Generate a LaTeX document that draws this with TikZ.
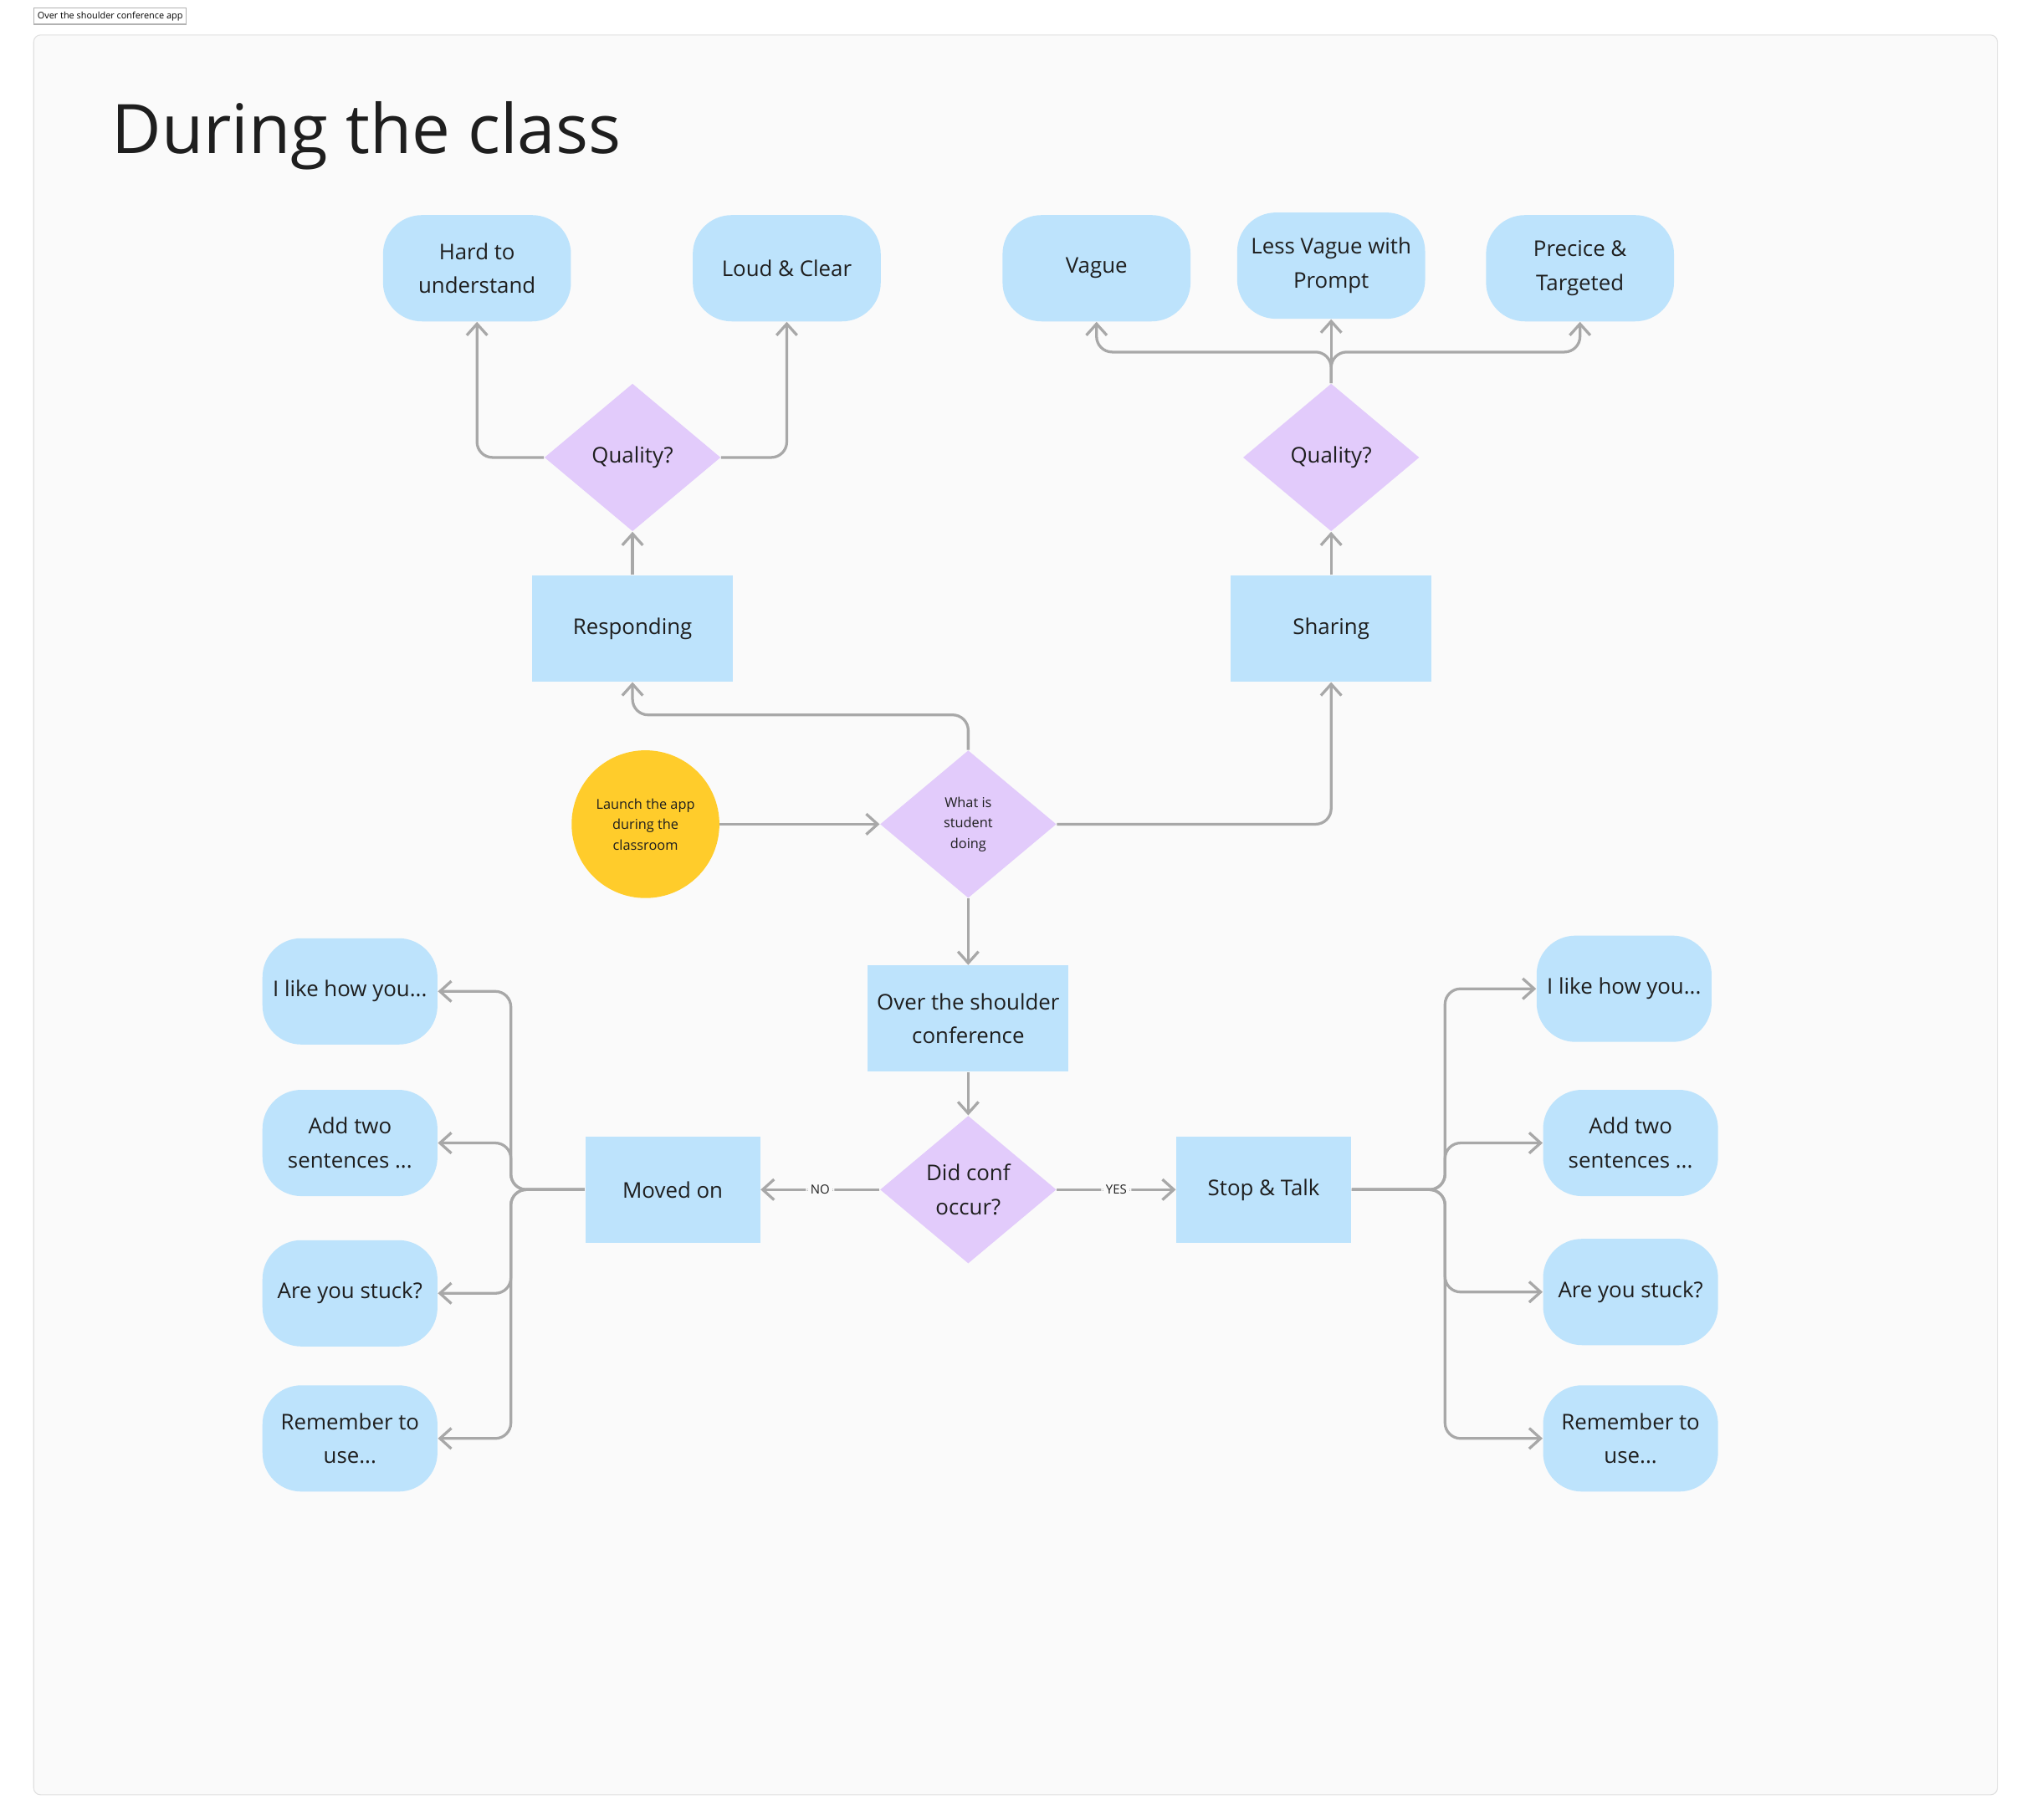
\documentclass[tikz,border=0pt]{standalone}
\usepackage{fontspec}
\setmainfont{Open Sans}
\usetikzlibrary{positioning,shapes.geometric,arrows.meta}
\definecolor{pillblue}{HTML}{BDE3FC}
\definecolor{diapurple}{HTML}{E2CBFB}
\definecolor{sunyellow}{HTML}{FFCC2B}
\definecolor{linegray}{HTML}{A8A8A8}
\definecolor{boardbg}{HTML}{FAFAFA}
\definecolor{inkdark}{HTML}{1E1E1E}
\tikzset{
  pill/.style={rectangle, rounded corners=30*0.02cm, fill=pillblue, minimum width=135*0.02cm, minimum height=82*0.02cm, align=center, text=inkdark, font=\fontsize{9.5}{15}\selectfont},
  box/.style={rectangle, fill=pillblue, minimum width=155*0.02cm, minimum height=82*0.02cm, align=center, text=inkdark, font=\fontsize{9.5}{15}\selectfont},
  choice/.style={diamond, fill=diapurple, minimum width=136*0.02cm, minimum height=114*0.02cm, inner sep=0pt, align=center, text=inkdark, font=\fontsize{9.5}{15}\selectfont},
  flow/.style={draw=linegray, line width=1.2pt, rounded corners=12*0.02cm, -{Straight Barb[length=5pt,width=9pt]}},
  tag/.style={fill=boardbg, inner sep=2pt, font=\fontsize{5.5}{7}\selectfont, text=inkdark}
}
\begin{document}
\begin{tikzpicture}[x=0.02cm, y=-0.02cm]
\useasboundingbox (0,0) rectangle (1560,1404);
\fill[white] (0,0) rectangle (1560,1404);
\draw[fill=boardbg, draw=black!12, rounded corners=3pt] (26,27) rectangle (1541,1385);
\node[draw=black!30, fill=white, inner sep=1.5pt, anchor=north west, font=\fontsize{4}{5}\selectfont] (board) at (26,6) {Over the shoulder conference app};
\node[anchor=west, font=\fontsize{30}{36}\selectfont, text=inkdark] (title) at (80,105) {During the class};

% top row
\node[pill, minimum width=145*0.02cm] (hard) at (368,207) {Hard to\\understand};
\node[pill, minimum width=145*0.02cm] (loud) at (607,207) {Loud \& Clear};
\node[pill, minimum width=145*0.02cm] (vague) at (846,207) {Vague};
\node[pill, minimum width=145*0.02cm] (lessvague) at (1027,205) {Less Vague with\\Prompt};
\node[pill, minimum width=145*0.02cm] (precice) at (1219,207) {Precice \&\\Targeted};

\node[choice] (q1) at (488,353) {Quality?};
\node[choice] (q2) at (1027,353) {Quality?};
\node[box] (resp) at (488,485) {Responding};
\node[box] (share) at (1027,485) {Sharing};

% middle
\node[circle, fill=sunyellow, minimum size=114*0.02cm, align=center, font=\fontsize{6}{9}\selectfont, text=inkdark] (launch) at (498,636) {Launch the app\\during the\\classroom};
\node[choice, font=\fontsize{6}{9}\selectfont] (what) at (747,636) {What is\\student\\doing};
\node[box] (osc) at (747,786) {Over the shoulder\\conference};
\node[choice] (did) at (747,918) {Did conf\\occur?};
\node[box, minimum width=135*0.02cm] (moved) at (519,918) {Moved on};
\node[box, minimum width=135*0.02cm] (stop) at (975,918) {Stop \& Talk};

% feedback pills
\node[pill] (l1) at (270,765) {I like how you...};
\node[pill] (l2) at (270,882) {Add two\\sentences ...};
\node[pill] (l3) at (270,998) {Are you stuck?};
\node[pill] (l4) at (270,1110) {Remember to\\use...};
\node[pill] (r1) at (1253,763) {I like how you...};
\node[pill] (r2) at (1258,882) {Add two\\sentences ...};
\node[pill] (r3) at (1258,997) {Are you stuck?};
\node[pill] (r4) at (1258,1110) {Remember to\\use...};

% connectors
\draw[flow] (q1.west) -| (hard.south);
\draw[flow] (q1.east) -| (loud.south);
\draw[flow] (q2.north) -- ++(0,-24) -| (vague.south);
\draw[flow] (q2.north) -- (lessvague.south);
\draw[flow] (q2.north) -- ++(0,-24) -| (precice.south);
\draw[flow] (resp.north) -- (q1.south);
\draw[flow] (share.north) -- (q2.south);
\draw[flow] (what.north) -- ++(0,-27) -| (resp.south);
\draw[flow] (launch.east) -- (what.west);
\draw[flow] (what.east) -| (share.south);
\draw[flow] (what.south) -- (osc.north);
\draw[flow] (osc.south) -- (did.north);
\draw[flow] (did.west) -- node[tag] {NO} (moved.east);
\draw[flow] (did.east) -- node[tag] {YES} (stop.west);
\foreach \p in {l1,l2,l3,l4}
  \draw[flow] (moved.west) -- ++(-57,0) |- (\p.east);
\foreach \p in {r1,r2,r3,r4}
  \draw[flow] (stop.east) -- ++(72,0) |- (\p.west);
\end{tikzpicture}
\end{document}
